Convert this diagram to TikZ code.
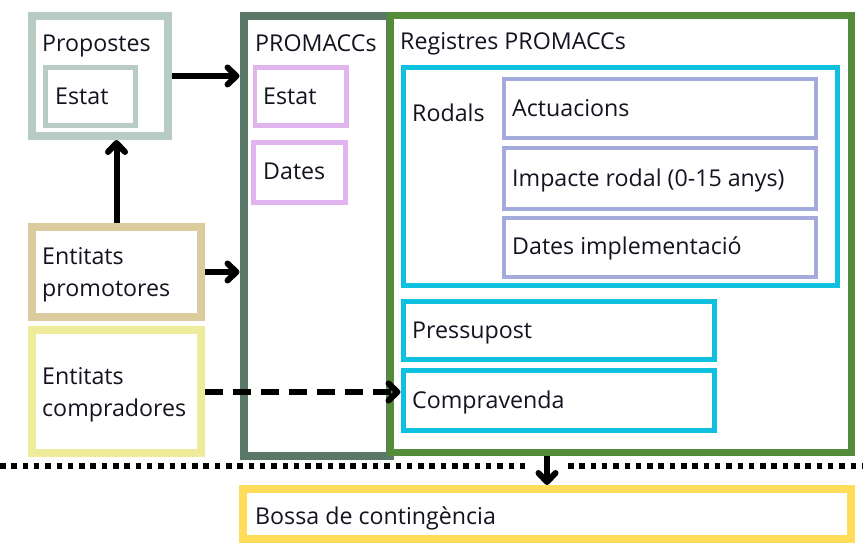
\documentclass[tikz,border=0pt]{standalone}
\usepackage{fontspec}
\setmainfont{Open Sans}
\usetikzlibrary{arrows.meta}
\definecolor{propc}{HTML}{B8CCC4}
\definecolor{grayc}{HTML}{5A7868}
\definecolor{greenc}{HTML}{548C3A}
\definecolor{tanc}{HTML}{DCCB9C}
\definecolor{lyelc}{HTML}{EEEB9A}
\definecolor{pinkc}{HTML}{E0B4EC}
\definecolor{cyanc}{HTML}{10C0E0}
\definecolor{lavc}{HTML}{A4AADC}
\definecolor{bossac}{HTML}{FFDC5A}
\definecolor{txtc}{HTML}{141420}
\begin{document}
\begin{tikzpicture}[x=1pt,y=-1pt,
  box/.style={draw=#1, fill=white, rectangle, inner sep=0pt},
  lbl/.style={anchor=base west, inner sep=0pt, text=txtc, font=\fontsize{23.2}{32}\selectfont},
  arr/.style={line width=6pt, -{Straight Barb[length=9pt, width=17pt, round]}},
  dotline/.style={line width=6pt, dash pattern=on 5.5pt off 5.8pt}]
\useasboundingbox (0,0) rectangle (863,545);
% left boxes
\node[box=propc, line width=8pt, minimum width=136pt, minimum height=120pt] (prop) at (100,76) {};
\node[box=propc, line width=5pt, minimum width=90pt, minimum height=58pt] (propestat) at (90.5,96.5) {};
\node[box=tanc, line width=8pt, minimum width=169pt, minimum height=90pt] (promot) at (116.5,272) {};
\node[box=lyelc, line width=8pt, minimum width=169pt, minimum height=123pt] (compr) at (116.5,391.5) {};
% PROMACCs
\node[box=grayc, line width=8pt, minimum width=146.5pt, minimum height=440pt] (promaccs) at (316.75,236) {};
\node[box=pinkc, line width=4.5pt, minimum width=91.5pt, minimum height=58pt] (pestat) at (300.75,96.5) {};
\node[box=pinkc, line width=4.5pt, minimum width=92pt, minimum height=60pt] (pdates) at (299.5,172.5) {};
% Registres
\node[box=greenc, line width=7pt, minimum width=460.5pt, minimum height=437pt] (reg) at (620.75,234.5) {};
\node[box=cyanc, line width=5.5pt, minimum width=434pt, minimum height=218pt] (rodals) at (620.5,176.5) {};
\node[box=lavc, line width=4pt, minimum width=312pt, minimum height=59pt] (act) at (660,108.5) {};
\node[box=lavc, line width=4pt, minimum width=312pt, minimum height=61pt] (imp) at (660,178.5) {};
\node[box=lavc, line width=4pt, minimum width=312pt, minimum height=59pt] (dimp) at (660,247.5) {};
\node[box=cyanc, line width=5pt, minimum width=311pt, minimum height=58pt] (press) at (558.5,330.5) {};
\node[box=cyanc, line width=5pt, minimum width=311pt, minimum height=60pt] (comp) at (558.5,400.5) {};
% Bossa
\node[box=bossac, line width=8pt, minimum width=608pt, minimum height=50pt] (bossa) at (547,514) {};
% texts
\node[lbl] (tprop) at (42,52) {Propostes};
\node[lbl] (tpropestat) at (55,105) {Estat};
\node[lbl] (tpromot) at (42,265) {\vtop{\hbox{Entitats}\hbox{promotores}}};
\node[lbl] (tcompr) at (42,385) {\vtop{\hbox{Entitats}\hbox{compradores}}};
\node[lbl] (tpromaccs) at (255,52) {PROMACCs};
\node[lbl] (tpestat) at (263,105) {Estat};
\node[lbl] (tpdates) at (263,180) {Dates};
\node[lbl] (treg) at (400,50) {Registres PROMACCs};
\node[lbl] (trodals) at (412,122) {Rodals};
\node[lbl] (tact) at (512,117) {Actuacions};
\node[lbl] (timp) at (512,187) {Impacte rodal (0-15 anys)};
\node[lbl] (tdimp) at (512,255) {Dates implementació};
\node[lbl] (tpress) at (412,339) {Pressupost};
\node[lbl] (tcomp) at (412,409) {Compravenda};
\node[lbl] (tbossa) at (255,525) {Bossa de contingència};
% dotted separator
\coordinate (dl) at (0,466);
\coordinate (dg1) at (531,466);
\coordinate (dg2) at (568,466);
\coordinate (dr) at (866,466);
\draw[dotline] (dl) -- (dg1);
\draw[dotline] (dg2) -- (dr);
% arrows
\draw[arr] (prop.east) -- (prop.east -| promaccs.west);
\draw[arr] (promot.north) -- (promot.north |- prop.south);
\draw[arr] (promot.east) -- (promot.east -| promaccs.west);
\draw[arr, dash pattern=on 18pt off 10pt] ([yshift=-0.5pt]compr.east) -- ([yshift=-0.5pt]compr.east -| comp.west);
\draw[arr] (bossa.north |- reg.south) -- (bossa.north);
\end{tikzpicture}
\end{document}
